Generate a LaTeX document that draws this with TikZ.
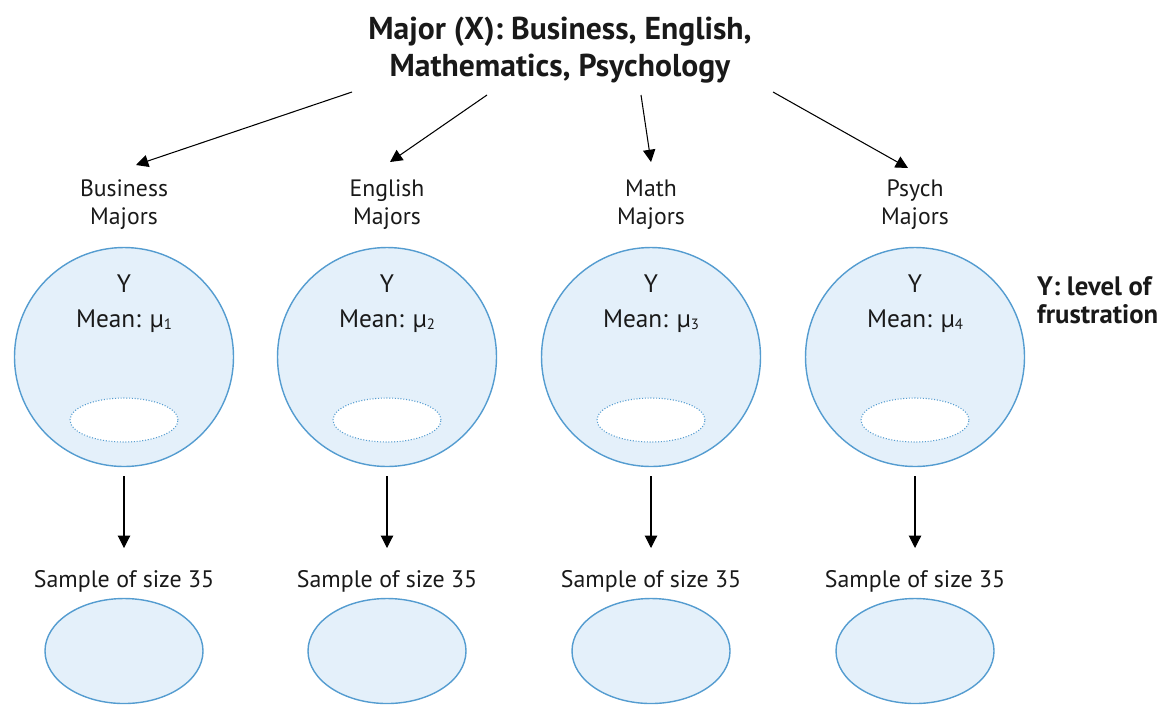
\documentclass[tikz,border=0pt]{standalone}
\usepackage{fontspec}
\setmainfont{PT Sans}
\usetikzlibrary{arrows.meta}
\definecolor{popfill}{RGB}{228,240,250}
\definecolor{popline}{RGB}{84,156,208}
\definecolor{txt}{RGB}{25,25,25}
\newcommand{\musub}[1]{µ{\fontsize{8.5}{9}\selectfont\raisebox{-0.25ex}{#1}}}
\tikzset{
  pop/.style={circle, draw=popline, fill=popfill, line width=0.8pt, minimum size=219\unitlen, inner sep=0pt},
  subpop/.style={ellipse, draw=popline, fill=white, densely dotted, line width=0.6pt, minimum width=108\unitlen, minimum height=44\unitlen, inner sep=0pt},
  samp/.style={ellipse, draw=popline, fill=popfill, line width=0.8pt, minimum width=158\unitlen, minimum height=105\unitlen, inner sep=0pt},
  grp/.style={align=center, font=\fontsize{13.5}{16}\selectfont, text=txt},
  poptxt/.style={align=center, font=\fontsize{14.4}{20}\selectfont, text=txt},
  samptxt/.style={font=\fontsize{13.6}{15}\selectfont, text=txt},
  arr/.style={-{Triangle[length=7pt,width=7pt]}, line width=0.6pt, black},
}
\newlength{\unitlen}
\setlength{\unitlen}{0.02cm}
\usetikzlibrary{shapes.geometric}
\begin{document}
\begin{tikzpicture}[x=0.02cm,y=-0.02cm]
\useasboundingbox (0,0) rectangle (1168,708);
\node[align=center, font=\fontsize{18}{21}\selectfont\bfseries, text=txt] (title) at (560,50) {Major (X): Business, English,\\Mathematics, Psychology};
\node[align=left, anchor=west, font=\fontsize{15.2}{16}\selectfont\bfseries, text=txt] (ylab) at (1031,300) {Y: level of\\frustration};
\foreach \i/\x/\g/\s in {1/124/Business/1, 2/387/English/2, 3/651/Math/3, 4/915/Psych/4}{
  \node[pop] (p\i) at (\x,357) {};
  \node[subpop] (e\i) at (\x,420) {};
  \node[poptxt] (t\i) at (\x,304) {Y\\Mean: \musub{\s}};
  \node[grp] (g\i) at (\x,205) {\g\\Majors};
  \node[samptxt] (st\i) at (\x,581) {Sample of size 35};
  \node[samp] (s\i) at (\x,651) {};
  \coordinate (a\i) at (\x,476);
  \coordinate (b\i) at (\x,548);
  \draw[arr] (a\i) -- (b\i);
}
\coordinate (f1) at (352,92); \coordinate (h1) at (136,165);
\coordinate (f2) at (487,95); \coordinate (h2) at (390,162);
\coordinate (f3) at (641,95); \coordinate (h3) at (651,162);
\coordinate (f4) at (773,92); \coordinate (h4) at (908,168);
\foreach \i in {1,...,4}{\draw[arr] (f\i) -- (h\i);}
\end{tikzpicture}
\end{document}
